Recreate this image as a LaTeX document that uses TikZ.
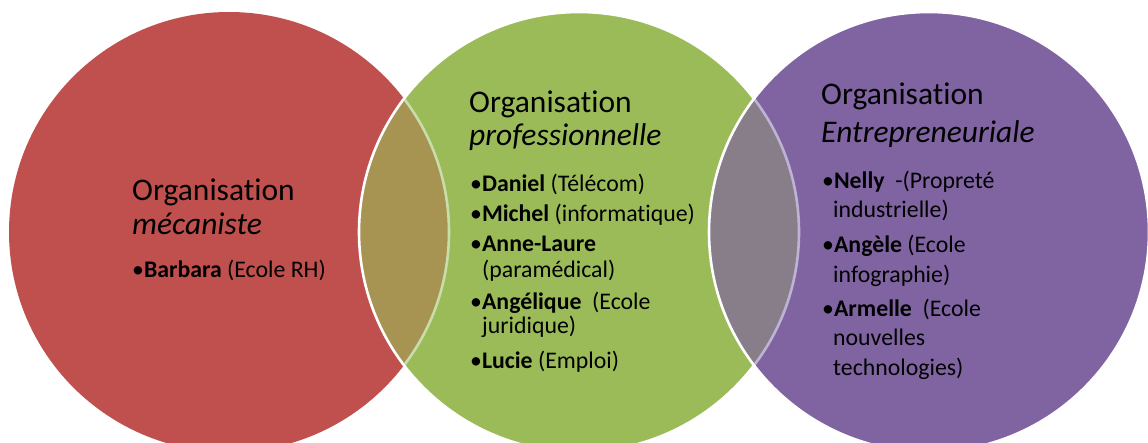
\documentclass[tikz,border=0pt]{standalone}
\usepackage{fontspec}
\setmainfont{Carlito}[Ligatures=NoCommon]
\definecolor{cred}{HTML}{C0504D}
\definecolor{cgreen}{HTML}{9BBB59}
\definecolor{cpurple}{HTML}{8064A2}
\definecolor{lensA}{RGB}{167,148,83}
\definecolor{lensB}{RGB}{136,126,137}
\definecolor{lineA}{RGB}{201,221,170}
\definecolor{lineB}{RGB}{191,179,212}
\begin{document}
\begin{tikzpicture}[x=1pt,y=-1pt,
  titletext/.style={anchor=base west, inner sep=0pt, font=\fontsize{31.5}{36}\selectfont},
  itemtext/.style={anchor=base west, inner sep=0pt, font=\fontsize{23.8}{28}\selectfont},
  rim/.style={line width=2.6pt}]
\useasboundingbox (0,0) rectangle (1148,443);
\coordinate (cr) at (229,232);
\coordinate (cg) at (579,232);
\coordinate (cp) at (929,232);
% red circle
\fill[cred] (cr) circle (220pt);
% green circle
\fill[cgreen] (cg) circle (220pt);
\begin{scope}
  \clip (cr) circle (220pt);
  \fill[lensA] (cg) circle (220pt);
\end{scope}
\begin{scope}
  \clip (cg) circle (220pt);
  \draw[rim, lineA] (cr) circle (220pt);
\end{scope}
\draw[rim, white] (cg) circle (220pt);
% purple circle
\fill[cpurple] (cp) circle (220pt);
\begin{scope}
  \clip (cg) circle (220pt);
  \fill[lensB] (cp) circle (220pt);
\end{scope}
\begin{scope}
  \clip (cp) circle (220pt);
  \draw[rim, lineB] (cg) circle (220pt);
\end{scope}
\draw[rim, white] (cp) circle (220pt);
% red texts
\node[titletext] (t1a) at (132,201) {Organisation};
\node[titletext] (t1b) at (132,235) {\itshape mécaniste};
\node[itemtext] (r1) at (132,278) {•\textbf{Barbara} (Ecole RH)};
% green texts
\node[titletext] (t2a) at (469,113) {Organisation};
\node[titletext] (t2b) at (469,146) {\itshape professionnelle};
\node[itemtext] (g1) at (470,192) {•\textbf{Daniel} (Télécom)};
\node[itemtext] (g2) at (470,222) {•\textbf{Michel} (informatique)};
\node[itemtext] (g3) at (470,252) {•\textbf{Anne-Laure}};
\node[itemtext] (g3b) at (482,278) {(paramédical)};
\node[itemtext] (g4) at (470,310) {•\textbf{Angélique}\ \ (Ecole};
\node[itemtext] (g4b) at (482,334) {juridique)};
\node[itemtext] (g5) at (470,368) {•\textbf{Lucie} (Emploi)};
% purple texts
\node[titletext] (t3a) at (821,105) {Organisation};
\node[titletext] (t3b) at (821,143) {\itshape Entrepreneuriale};
\node[itemtext] (p1) at (822,189) {•\textbf{Nelly}\ \ -(Propreté};
\node[itemtext] (p1b) at (833,218) {industrielle)};
\node[itemtext] (p2) at (822,253) {•\textbf{Angèle} (Ecole};
\node[itemtext] (p2b) at (833,283) {infographie)};
\node[itemtext] (p3) at (822,317) {•\textbf{Armelle}\ \ (Ecole};
\node[itemtext] (p3b) at (833,345) {nouvelles};
\node[itemtext] (p3c) at (833,375) {technologies)};
\end{tikzpicture}
\end{document}
